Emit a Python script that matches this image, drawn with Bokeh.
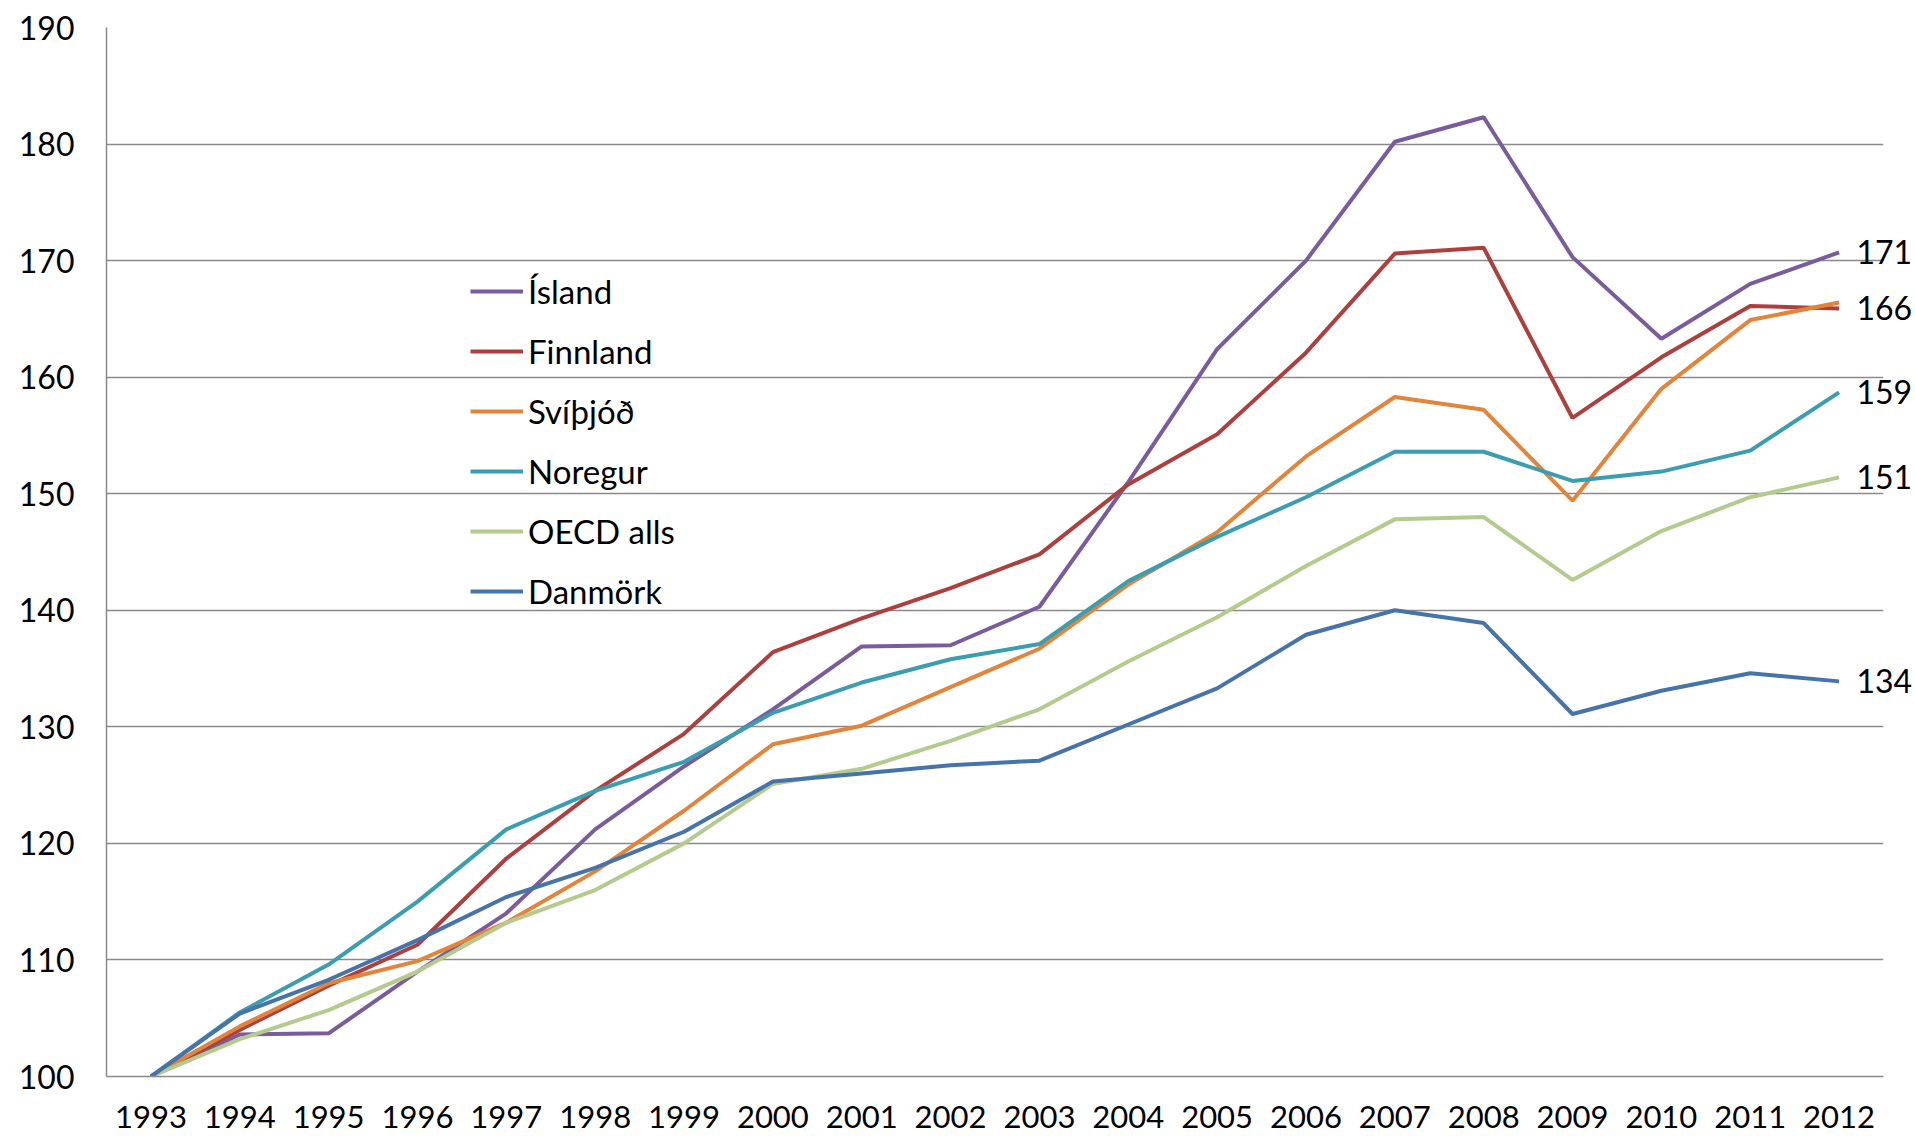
from bokeh.plotting import figure
from bokeh.models import (FactorRange, Range1d, FixedTicker, Legend, LegendItem,
                          LinearAxis)
from bokeh.embed import file_html
from bokeh.resources import INLINE

years = ["1993", "1994", "1995", "1996", "1997", "1998", "1999", "2000", "2001", "2002",
         "2003", "2004", "2005", "2006", "2007", "2008", "2009", "2010", "2011", "2012"]

island   = [100, 103.6, 103.7, 109.0, 114.0, 121.2, 126.6, 131.5, 136.9, 137.0,
            140.3, 151.0, 162.4, 170.0, 180.2, 182.3, 170.3, 163.3, 168.0, 170.7]
finnland = [100, 104.0, 107.8, 111.3, 118.7, 124.5, 129.4, 136.4, 139.3, 141.9,
            144.8, 150.8, 155.1, 162.1, 170.6, 171.1, 156.5, 161.7, 166.1, 165.9]
svithjod = [100, 104.3, 108.0, 109.9, 113.2, 117.6, 122.8, 128.5, 130.1, 133.4,
            136.7, 142.2, 146.7, 153.2, 158.3, 157.2, 149.4, 159.0, 164.9, 166.4]
noregur  = [100, 105.5, 109.6, 115.0, 121.2, 124.5, 127.0, 131.2, 133.8, 135.8,
            137.1, 142.5, 146.3, 149.7, 153.6, 153.6, 151.1, 151.9, 153.7, 158.7]
oecd     = [100, 103.2, 105.7, 109.0, 113.2, 116.0, 120.0, 125.1, 126.4, 128.8,
            131.5, 135.6, 139.4, 143.8, 147.8, 148.0, 142.6, 146.8, 149.7, 151.4]
danmork  = [100, 105.4, 108.3, 111.7, 115.4, 117.9, 121.0, 125.3, 126.0, 126.7,
            127.1, 130.2, 133.3, 137.9, 140.0, 138.9, 131.1, 133.1, 134.6, 133.9]

series_names = ["Ísland", "Finnland", "Svíþjóð", "Noregur", "OECD alls", "Danmörk"]
series_values = [island, finnland, svithjod, noregur, oecd, danmork]
series_colors = ["#7A5C9C", "#AD403D", "#E2843A", "#3A9DB0", "#B4CB8D", "#4673AA"]

y_ticks = [100, 110, 120, 130, 140, 150, 160, 170, 180, 190]

# series whose final value is written at the right end
end_label_series = [island, finnland, noregur, oecd, danmork]

FONT = "Lato"

p = figure(x_range=FactorRange(*years), y_range=Range1d(100, 190),
           frame_width=1777, frame_height=1049,
           min_border_left=106, min_border_right=32, min_border_top=27, min_border_bottom=66,
           output_backend="svg", toolbar_location=None)

p.outline_line_color = None
p.background_fill_color = "white"
p.border_fill_color = "white"

p.xgrid.grid_line_color = None
p.ygrid.grid_line_color = "#8A8A8A"
p.ygrid.grid_line_width = 1.5

p.yaxis.ticker = FixedTicker(ticks=y_ticks)
for ax in (p.xaxis[0], p.yaxis[0]):
    ax.axis_line_color = "#8A8A8A"
    ax.axis_line_width = 1.5
    ax.major_tick_line_color = None
    ax.minor_tick_line_color = None
    ax.major_tick_out = 0
    ax.major_tick_in = 0
    ax.major_label_text_font = FONT
    ax.major_label_text_color = "black"
p.yaxis.major_label_text_font_size = "32px"
p.xaxis.major_label_text_font_size = "31px"
p.yaxis.major_label_standoff = 32
p.xaxis.major_label_standoff = 29

items = []
for name, vals, col in zip(series_names, series_values, series_colors):
    r = p.line(x=years, y=vals, line_color=col, line_width=4)
    items.append(LegendItem(label=name, renderers=[r]))

legend = Legend(items=items, location=(364, 465),
                background_fill_alpha=0, border_line_alpha=0,
                padding=0, margin=0, spacing=20,
                glyph_width=53, glyph_height=30, label_height=30,
                label_standoff=5, label_text_font=FONT,
                label_text_font_size="33px", label_text_color="black")
p.add_layout(legend)

# end-of-line values, written as labels of an axis on the right
end_vals = [s[-1] for s in end_label_series]
end_axis = LinearAxis(ticker=FixedTicker(ticks=end_vals),
                      major_label_overrides={v: str(int(round(v))) for v in end_vals})
end_axis.axis_line_color = None
end_axis.major_tick_line_color = None
end_axis.minor_tick_line_color = None
end_axis.major_tick_out = 0
end_axis.major_tick_in = 0
end_axis.major_label_standoff = -27
end_axis.major_label_text_font = FONT
end_axis.major_label_text_font_size = "32px"
end_axis.major_label_text_color = "black"
p.add_layout(end_axis, "right")

open("out.html", "w").write(file_html(p, INLINE))
